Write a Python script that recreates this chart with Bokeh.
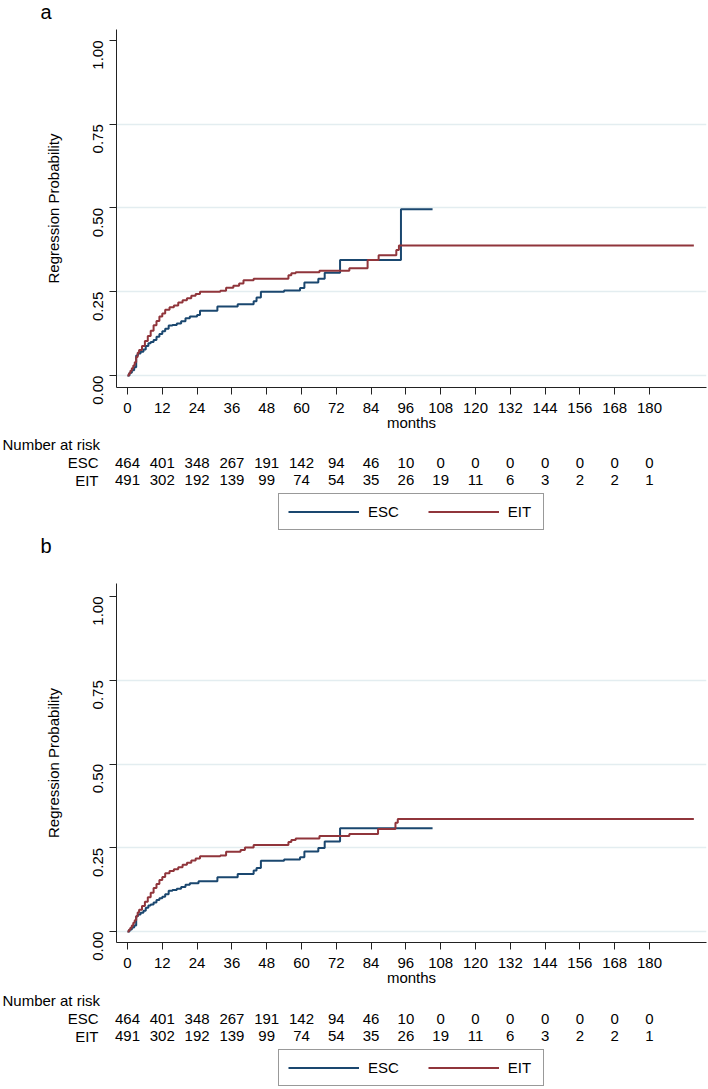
import math
from bokeh.plotting import figure
from bokeh.layouts import column
from bokeh.models import Range1d, FixedTicker, Legend, LegendItem, ColumnDataSource, NumeralTickFormatter
from bokeh.core.properties import value
from bokeh.embed import file_html
from bokeh.resources import INLINE

FONT = "Liberation Sans"
NAVY = "#1a476f"
MAROON = "#90353b"

# ---------------- data ----------------
risk_times = [0, 12, 24, 36, 48, 60, 72, 84, 96, 108, 120, 132, 144, 156, 168, 180]
esc_risk = [464, 401, 348, 267, 191, 142, 94, 46, 10, 0, 0, 0, 0, 0, 0, 0]
eit_risk = [491, 302, 192, 139, 99, 74, 54, 35, 26, 19, 11, 6, 3, 2, 2, 1]

y_ticks = [0, 0.25, 0.5, 0.75, 1.0]

# panel a
esc_a_t = [0, 0.7, 1.5, 2.3, 3.0, 3.6, 4.5, 5.5, 6.3, 7.2, 8.0, 9.0, 10.0, 11.0, 12.0, 13.0,
           14.2, 15.5, 17.0, 18.5, 20.0, 21.5, 24.0, 25.0, 31.0, 38.0, 43.5, 44.5, 46.0, 54.0,
           59.5, 61.0, 65.8, 68.0, 73.3, 94.3, 105.2]
esc_a_s = [0, 0.008, 0.016, 0.025, 0.060, 0.066, 0.071, 0.078, 0.088, 0.096, 0.100, 0.106, 0.116,
           0.124, 0.132, 0.140, 0.149, 0.151, 0.155, 0.162, 0.171, 0.176, 0.181, 0.193, 0.206, 0.213,
           0.222, 0.233, 0.250, 0.254, 0.261, 0.278, 0.289, 0.307, 0.345, 0.496, 0.496]
eit_a_t = [0, 0.5, 1.0, 1.5, 2.0, 2.5, 3.0, 3.5, 4.0, 5.0, 6.0, 7.0, 8.0, 9.0, 10.0, 11.0, 12.0,
           13.0, 14.5, 16.0, 17.5, 19.0, 20.5, 22.0, 23.5, 25.0, 32.0, 34.0, 36.5, 38.5, 40.0, 43.5,
           55.5, 56.5, 58.0, 66.2, 76.5, 82.8, 86.6, 92.7, 93.6, 195.3]
eit_a_s = [0, 0.006, 0.014, 0.022, 0.030, 0.040, 0.055, 0.068, 0.076, 0.088, 0.103, 0.118, 0.134,
           0.150, 0.163, 0.176, 0.185, 0.196, 0.204, 0.209, 0.218, 0.225, 0.231, 0.238, 0.243, 0.250,
           0.253, 0.262, 0.268, 0.275, 0.284, 0.289, 0.299, 0.305, 0.308, 0.313, 0.320, 0.345, 0.359,
           0.375, 0.388, 0.388]

# panel b
esc_b_t = [0, 0.7, 1.5, 2.3, 3.0, 3.6, 4.5, 5.5, 6.3, 7.2, 8.0, 9.0, 10.0, 11.0, 12.0, 13.0,
           14.2, 15.5, 17.0, 18.5, 20.0, 21.5, 24.5, 31.0, 38.0, 43.5, 44.5, 46.0, 54.0, 59.5,
           61.0, 65.8, 68.0, 73.3, 105.2]
esc_b_s = [0, 0.006, 0.012, 0.018, 0.046, 0.051, 0.056, 0.062, 0.071, 0.078, 0.081, 0.087, 0.094,
           0.099, 0.104, 0.111, 0.122, 0.124, 0.128, 0.133, 0.140, 0.144, 0.150, 0.162, 0.172, 0.182,
           0.190, 0.211, 0.215, 0.222, 0.239, 0.249, 0.269, 0.308, 0.308]
eit_b_t = [0, 0.5, 1.0, 1.5, 2.0, 2.5, 3.0, 3.5, 4.0, 5.0, 6.0, 7.0, 8.0, 9.0, 10.0, 11.0, 12.0,
           13.0, 14.5, 16.0, 17.5, 19.0, 20.5, 22.0, 23.5, 25.0, 32.0, 34.0, 39.0, 40.5, 43.5,
           55.5, 56.5, 58.0, 66.2, 76.5, 86.4, 92.4, 93.2, 195.3]
eit_b_s = [0, 0.005, 0.011, 0.018, 0.026, 0.034, 0.046, 0.057, 0.065, 0.076, 0.089, 0.102, 0.116,
           0.130, 0.142, 0.154, 0.163, 0.174, 0.181, 0.186, 0.192, 0.199, 0.205, 0.212, 0.218, 0.225,
           0.227, 0.238, 0.243, 0.251, 0.258, 0.267, 0.273, 0.278, 0.285, 0.291, 0.306, 0.325, 0.336,
           0.336]

# ---------------- layout constants ----------------
W = 708
FL, FR = 116, 706
X0, X1 = -3.79, 199.66
PX = (FR - FL) / (X1 - X0)
TX0 = X0 - FL / PX
TX1 = X1 + (W - FR) / PX
BOTTOM = 45


def bare_fig(h):
    t = figure(width=W, height=h, x_range=Range1d(TX0, TX1), y_range=Range1d(h, 0),
               x_axis_type=None, y_axis_type=None, output_backend="svg", toolbar_location=None,
               frame_align=False, min_border=0, min_border_left=0, min_border_right=0,
               min_border_top=0, min_border_bottom=0)
    t.outline_line_color = None
    t.grid.visible = False
    return t


def letter_text(t, letter, y):
    t.text(x=[TX0 + 40 / PX], y=[y], text=[letter], text_align="left",
           text_font=value(FONT), text_font_size="20px", text_color="black",
           text_baseline="middle")


def km_fig(top, frame_h, y0, y1, esc_t, esc_s, eit_t, eit_s):
    p = figure(width=W, height=top + frame_h + BOTTOM, x_range=Range1d(X0, X1),
               y_range=Range1d(y0, y1),
               output_backend="svg", toolbar_location=None, frame_align=False,
               min_border_left=FL, min_border_right=W - FR, min_border_top=top,
               min_border_bottom=BOTTOM)
    p.outline_line_color = None
    p.xgrid.visible = False
    p.ygrid.ticker = FixedTicker(ticks=y_ticks[:-1])
    p.ygrid.grid_line_color = "#e3edf0"
    p.ygrid.grid_line_width = 1.5

    p.step(esc_t, esc_s, mode="after", line_color=NAVY, line_width=2)
    p.step(eit_t, eit_s, mode="after", line_color=MAROON, line_width=2)

    xa = p.xaxis[0]
    xa.ticker = FixedTicker(ticks=risk_times)
    xa.axis_label = "months"
    ya = p.yaxis[0]
    ya.ticker = FixedTicker(ticks=y_ticks)
    ya.formatter = NumeralTickFormatter(format="0.00")
    ya.axis_label = "Regression Probability"
    ya.major_label_orientation = math.pi / 2
    for ax in (xa, ya):
        ax.axis_line_color = "#222222"
        ax.major_tick_line_color = "#222222"
        ax.major_tick_out = 7
        ax.major_tick_in = 0
        ax.minor_tick_line_color = None
        ax.major_label_text_font = FONT
        ax.major_label_text_font_size = "15px"
        ax.major_label_text_color = "black"
        ax.axis_label_text_font = FONT
        ax.axis_label_text_font_size = "15px"
        ax.axis_label_text_font_style = "normal"
        ax.axis_label_text_color = "black"
    xa.major_label_standoff = 8
    ya.major_label_standoff = 11
    xa.axis_label_standoff = -2
    ya.axis_label_standoff = 24
    return p


def table_fig(h, rows_y, legend_bottom, next_letter=None, letter_y=None):
    t = bare_fig(h)
    common = dict(text_font=value(FONT), text_font_size="15px", text_color="black",
                  text_baseline="middle")
    src = ColumnDataSource(dict(x=risk_times, esc=[str(v) for v in esc_risk],
                                eit=[str(v) for v in eit_risk]))
    t.text(x="x", y=rows_y[1], text="esc", source=src, text_align="center", **common)
    t.text(x="x", y=rows_y[2], text="eit", source=src, text_align="center", **common)
    t.text(x=[TX0 + 2 / PX], y=[rows_y[0]], text=["Number at risk"], text_align="left", **common)
    lab_x = TX0 + 98 / PX
    t.text(x=[lab_x, lab_x], y=[rows_y[1], rows_y[2]], text=["ESC", "EIT"], text_align="right", **common)
    if next_letter:
        letter_text(t, next_letter, letter_y)
    # legend proxies (kept outside the visible range)
    r1 = t.line(x=[TX0 - 50, TX0 - 40], y=[-50, -50], line_color=NAVY, line_width=2)
    r2 = t.line(x=[TX0 - 50, TX0 - 40], y=[-50, -50], line_color=MAROON, line_width=2)
    leg = Legend(items=[LegendItem(label="ESC", renderers=[r1]), LegendItem(label="EIT", renderers=[r2])],
                 orientation="horizontal", location=(278, legend_bottom),
                 glyph_width=71, glyph_height=17, label_standoff=9, spacing=29,
                 padding=9, margin=0, label_height=17, label_width=26,
                 border_line_color="#333333", border_line_width=1.2,
                 label_text_font=FONT, label_text_font_size="15px", label_text_color="black",
                 background_fill_alpha=1.0)
    t.add_layout(leg)
    return t


head = bare_fig(29)
letter_text(head, "a", 11.5)

pa = km_fig(0, 359, -0.0357, 1.0327, esc_a_t, esc_a_s, eit_a_t, eit_a_s)          # 29 .. 433
ta = table_fig(126, [10.6, 29.0, 46.5], 29, next_letter="b", letter_y=112)       # 433 .. 559
pb = km_fig(24, 360, -0.0327, 1.0387, esc_b_t, esc_b_s, eit_b_t, eit_b_s)          # 559 .. 988
tb = table_fig(101, [11.7, 30.0, 47.7], 3)                                        # 988 .. 1089

layout = column(head, pa, ta, pb, tb, spacing=0)
open("out.html", "w").write(file_html(layout, INLINE))
